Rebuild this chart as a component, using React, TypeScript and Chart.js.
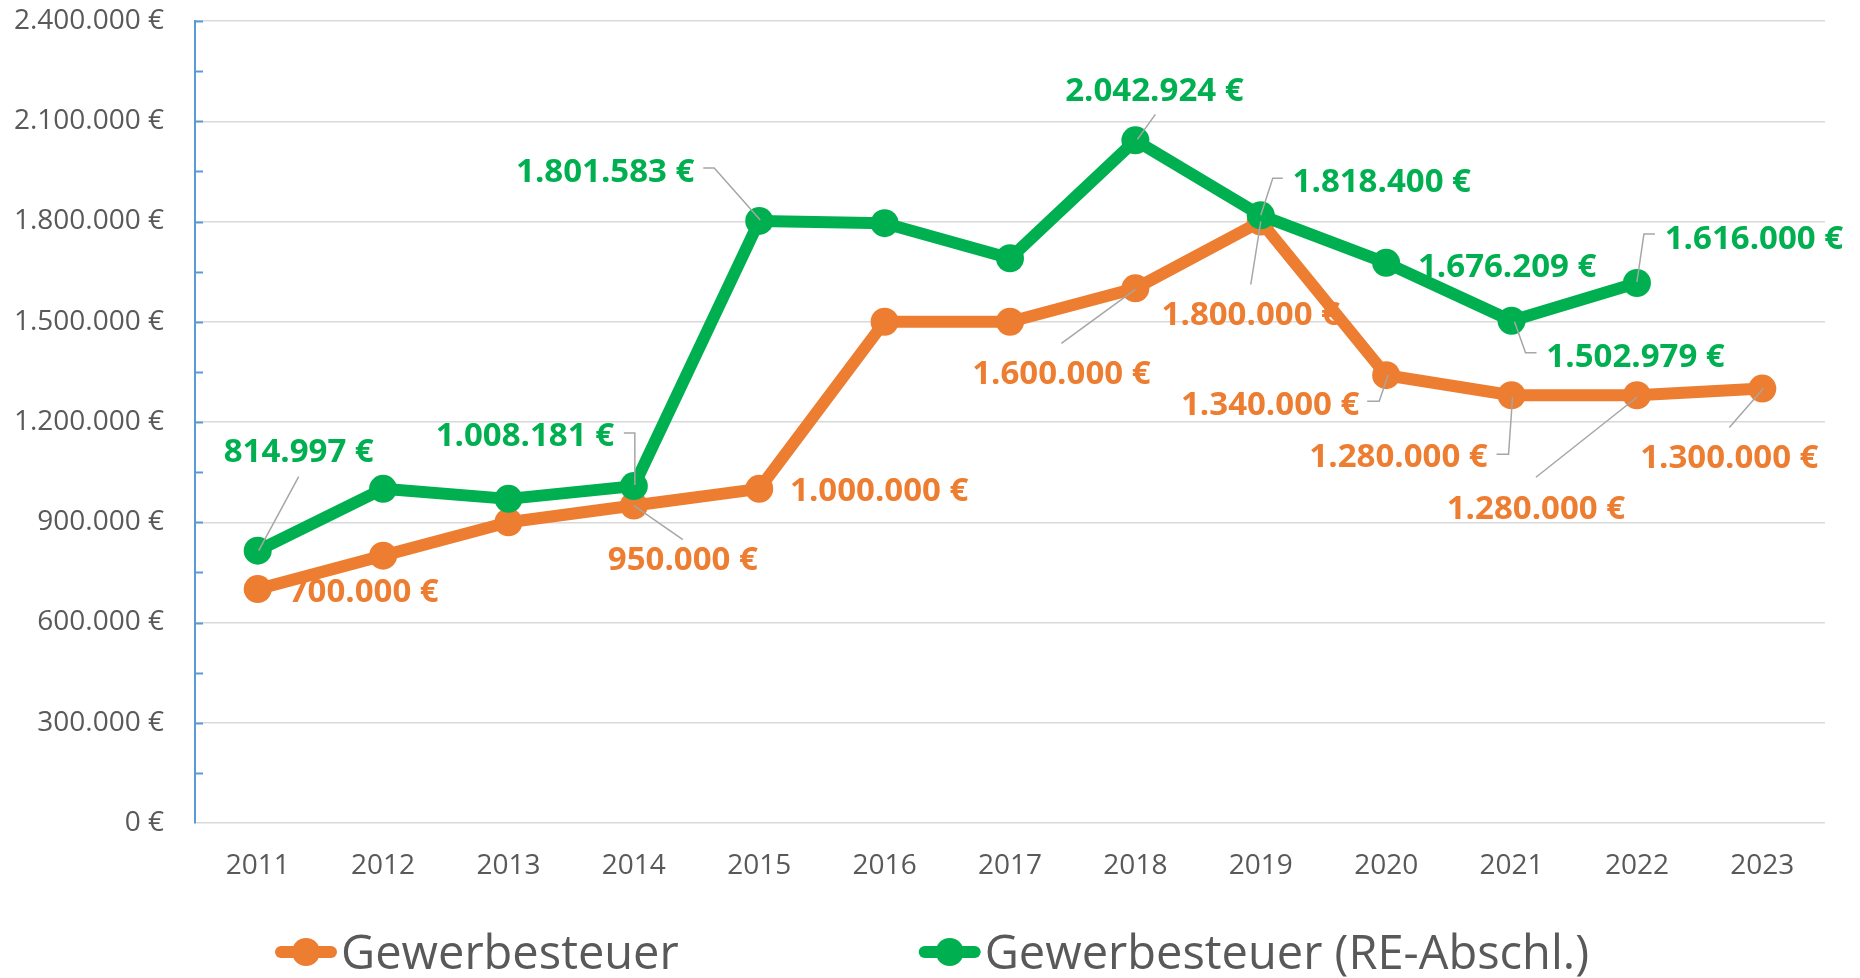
import { useEffect, useRef } from "react";
import { Chart, registerables } from "chart.js";

Chart.register(...registerables);

// ---------- data ----------
const years = ["2011", "2012", "2013", "2014", "2015", "2016", "2017", "2018", "2019", "2020", "2021", "2022", "2023"];
const seriesNames = ["Gewerbesteuer", "Gewerbesteuer (RE-Abschl.)"];
const gewerbesteuer = [700000, 800000, 900000, 950000, 1000000, 1500000, 1500000, 1600000, 1800000, 1340000, 1280000, 1280000, 1300000];
const gewerbesteuerRE = [814997, 1000000, 970000, 1008181, 1801583, 1795000, 1690000, 2042924, 1818400, 1676209, 1502979, 1616000, null];
const yMin = 0;
const yMax = 2400000;
const yStep = 300000;
const yMinorStep = 150000;

// which points carry a value label (true = labelled)
const labelledOrange = [true, false, false, true, true, false, false, true, true, true, true, true, true];
const labelledGreen = [true, false, false, true, true, false, false, true, true, true, true, true, false];

// ---------- styling ----------
const ORANGE = "#ED7D31";
const GREEN = "#00B050";
const TEXT = "#595959";
const FONT = '"Open Sans", "Noto Sans", sans-serif';

// label placement relative to the point (pixels): [dx, dy] of text centre
const labelOffsets = [
  [[106, 1], null, null, [49, 53], [120, 0], null, null, [-74, 84], [-10, 92], [-116, 28], [-113, 60], [-101, 112], [-33, 68]],
  [[41, -100], null, null, [-109, -52], [-154, -51], null, null, [19, -51], [121, -35], [121, 2], [124, 34], [117, -46], null],
];
// leader line polylines relative to the point
const leaderLines = [
  [null, null, null, [[49, 34], [0, 0]], null, null, null, [[-74, 55], [0, 1]], [[-10, 63], [0, 0]],
    [[-19, 26], [-7, 26], [2, 0]], [[-15, 59], [-3, 59], [1, 2]], [[-101, 82], [0, 2]], [[-33, 39], [1, 0]]],
  [[[41, -74], [1, 0]], null, null, [[-10, -53], [1, -53], [1, -1]], [[-56, -53], [-45, -53], [1, -1]], null, null,
    [[20, -26], [2, -1]], [[22, -37], [12, -37], [0, 0]], null, [[25, 32], [14, 32], [3, 1]], [[18, -49], [7, -49], [0, -1]], null],
];

const fmt = (v: number) => String(Math.round(v)).replace(/\B(?=(\d{3})+(?!\d))/g, ".") + " €";

const yTickMarks = {
  id: "yTickMarks",
  beforeDatasetsDraw(chart: any) {
    const ys = chart.scales.y;
    const ctx = chart.ctx;
    const left = chart.chartArea.left;
    ctx.save();
    ctx.strokeStyle = "#5B9BD5";
    ctx.lineWidth = 2;
    for (let v = yMin + yMinorStep; v <= yMax; v += yMinorStep) {
      const py = Math.round(ys.getPixelForValue(v)) + 0.5;
      ctx.beginPath();
      ctx.moveTo(left, py);
      ctx.lineTo(left + 8, py);
      ctx.stroke();
    }
    ctx.restore();
  },
};

const dataLabels = {
  id: "dataLabels",
  afterDatasetsDraw(chart: any) {
    const ctx = chart.ctx;
    const flags = [labelledOrange, labelledGreen];
    // leader lines first
    chart.data.datasets.forEach((ds: any, di: number) => {
      const meta = chart.getDatasetMeta(di);
      meta.data.forEach((pt: any, i: number) => {
        const L = leaderLines[di][i];
        if (!L || !flags[di][i] || ds.data[i] == null) return;
        const { x, y } = pt.getProps(["x", "y"], true);
        ctx.save();
        ctx.strokeStyle = "#A6A6A6";
        ctx.lineWidth = 1.5;
        ctx.beginPath();
        L.forEach(([dx, dy]: number[], k: number) => (k ? ctx.lineTo(x + dx, y + dy) : ctx.moveTo(x + dx, y + dy)));
        ctx.stroke();
        ctx.restore();
      });
    });
    chart.data.datasets.forEach((ds: any, di: number) => {
      const meta = chart.getDatasetMeta(di);
      meta.data.forEach((pt: any, i: number) => {
        const o = labelOffsets[di][i];
        const v = ds.data[i];
        if (!o || !flags[di][i] || v == null) return;
        const { x, y } = pt.getProps(["x", "y"], true);
        ctx.save();
        ctx.font = `bold 33px ${FONT}`;
        ctx.fillStyle = ds.borderColor;
        ctx.textAlign = "center";
        ctx.textBaseline = "alphabetic";
        ctx.fillText(fmt(v), x + o[0], y + o[1] + 0.357 * 33);
        ctx.restore();
      });
    });
  },
};

const bottomLegend = {
  id: "bottomLegend",
  afterDraw(chart: any) {
    const ctx = chart.ctx;
    ctx.save();
    const size = 47;
    ctx.font = `${size}px ${FONT}`;
    const markerW = 62;
    const textGap = 4;
    const itemGap = 240;
    const items = chart.data.datasets.map((ds: any) => ({
      text: ds.label,
      color: ds.borderColor,
      w: ctx.measureText(ds.label).width,
    }));
    const total =
      items.reduce((s: number, it: any) => s + markerW + textGap + it.w, 0) + itemGap * (items.length - 1);
    let x = chart.width / 2 + 2 - total / 2;
    const y = chart.height - 26;
    items.forEach((it: any) => {
      ctx.strokeStyle = it.color;
      ctx.lineWidth = 12;
      ctx.lineCap = "round";
      ctx.beginPath();
      ctx.moveTo(x + 6, y);
      ctx.lineTo(x + markerW - 6, y);
      ctx.stroke();
      ctx.fillStyle = it.color;
      ctx.beginPath();
      ctx.arc(x + markerW / 2, y, 14, 0, Math.PI * 2);
      ctx.fill();
      ctx.fillStyle = TEXT;
      ctx.textAlign = "left";
      ctx.textBaseline = "alphabetic";
      ctx.fillText(it.text, x + markerW + textGap, y + 0.357 * size);
      x += markerW + textGap + it.w + itemGap;
    });
    ctx.restore();
  },
};

export default function App() {
  const canvasRef = useRef<HTMLCanvasElement | null>(null);

  useEffect(() => {
    if (!canvasRef.current) return;
    const chart = new Chart(canvasRef.current, {
      type: "line",
      data: {
        labels: years,
        datasets: [
          {
            label: seriesNames[0],
            data: gewerbesteuer,
            borderColor: ORANGE,
            backgroundColor: ORANGE,
            pointBackgroundColor: ORANGE,
            pointBorderColor: ORANGE,
            borderWidth: 12,
            pointRadius: 14,
            pointBorderWidth: 0,
            borderJoinStyle: "round",
            borderCapStyle: "round",
            tension: 0,
            order: 1,
          },
          {
            label: seriesNames[1],
            data: gewerbesteuerRE,
            borderColor: GREEN,
            backgroundColor: GREEN,
            pointBackgroundColor: GREEN,
            pointBorderColor: GREEN,
            borderWidth: 12,
            pointRadius: 14,
            pointBorderWidth: 0,
            borderJoinStyle: "round",
            borderCapStyle: "round",
            tension: 0,
            order: 0,
          },
        ],
      },
      options: {
        animation: false,
        responsive: true,
        maintainAspectRatio: false,
        layout: { padding: { top: 21, right: 35, bottom: 95, left: 0 } },
        plugins: {
          legend: { display: false },
          tooltip: { enabled: false },
        },
        scales: {
          x: {
            type: "category",
            offset: true,
            grid: { display: false },
            border: { display: false },
            ticks: { color: TEXT, font: { family: FONT, size: 28 }, padding: 18, maxRotation: 0 },
            afterFit: (s: any) => {
              s.height = 60;
            },
          },
          y: {
            min: yMin,
            max: yMax,
            grid: { color: "#D9D9D9", lineWidth: 1.5, drawTicks: true, tickLength: 31, tickColor: "rgba(0,0,0,0)" },
            border: { display: true, color: "#5B9BD5", width: 2 },
            ticks: {
              stepSize: yStep,
              color: TEXT,
              font: { family: FONT, size: 28 },
              padding: 0,
              callback: (v: any) => fmt(Number(v)),
            },
            afterFit: (s: any) => {
              s.width = 195;
            },
          },
        },
      },
      plugins: [yTickMarks, dataLabels, bottomLegend],
    });
    return () => chart.destroy();
  }, []);

  return (
    <div style={{ position: "fixed", left: 0, top: 0, width: 1860, height: 978, background: "#fff" }}>
      <canvas ref={canvasRef} />
    </div>
  );
}
